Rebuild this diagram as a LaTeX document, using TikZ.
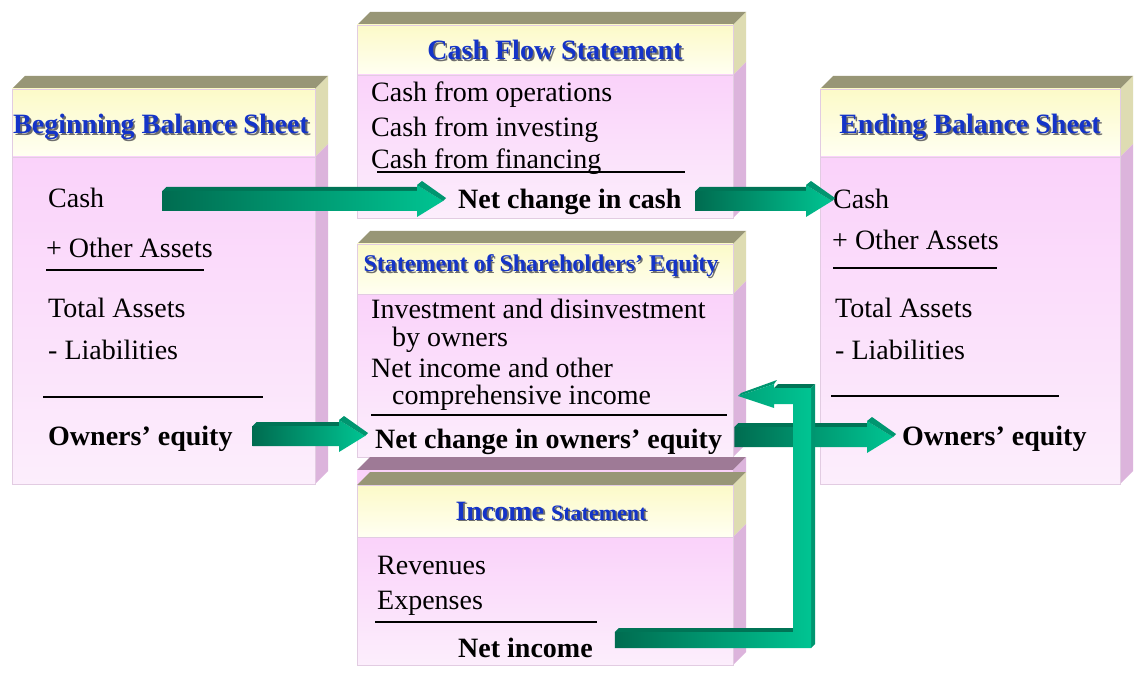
\documentclass[tikz,border=0pt]{standalone}
\usepackage{fontspec}
\setmainfont{Liberation Serif}
\usetikzlibrary{calc}

\definecolor{cTop}{RGB}{152,150,118}
\definecolor{cBackTop}{RGB}{158,122,150}
\definecolor{cHdrSide}{RGB}{222,220,178}
\definecolor{cBodySide}{RGB}{220,180,220}
\definecolor{cHdrA}{RGB}{252,250,200}
\definecolor{cHdrB}{RGB}{255,255,242}
\definecolor{cBodyA}{RGB}{250,210,250}
\definecolor{cBodyB}{RGB}{252,238,252}
\definecolor{cEdge}{RGB}{226,204,226}
\definecolor{cTitle}{RGB}{20,52,200}
\definecolor{cShadow}{RGB}{110,110,110}
\definecolor{cTealDark}{RGB}{0,108,80}
\definecolor{cTealLight}{RGB}{0,196,146}
\definecolor{cTealTop}{RGB}{0,116,86}
\definecolor{cTealTip}{RGB}{0,150,112}

\tikzset{
  topface/.style={fill=cTop},
  backface/.style={fill=cBackTop},
  hdrside/.style={fill=cHdrSide},
  bodyside/.style={fill=cBodySide},
  hdrfront/.style={top color=cHdrA, bottom color=cHdrB},
  bodyfront/.style={top color=cBodyA, bottom color=cBodyB},
  edge/.style={draw=cEdge, line width=0.8pt},
  item/.style={anchor=west, inner sep=0pt, text height=18pt, text depth=0pt,
    font=\fontsize{28}{30}\selectfont},
  total/.style={item, font=\fontsize{28}{30}\selectfont\bfseries},
  title/.style={inner sep=0pt, text=cTitle, font=\fontsize{28}{30}\selectfont\bfseries},
  titleshadow/.style={title, text=cShadow},
  smalltitle/.style={font=\fontsize{24}{26}\selectfont\bfseries},
  rule/.style={line width=1.3pt},
  arrowface/.style={left color=cTealDark, right color=cTealLight},
  arrowtop/.style={fill=cTealTop},
  arrowtip/.style={fill=cTealTip}
}

% front face, header and body of a statement box: x1, x2, ytop, yheader, ybottom
\newcommand{\sheetbox}[5]{%
  \fill [topface] (#1,#3) -- ++(13pt,13pt) -- ({#2+13},{#3-13}) -- (#2,#3) -- cycle;
  \fill [hdrside] (#2,#3) -- ({#2+13},{#3-13}) -- ({#2+13},{#4-13}) -- (#2,#4) -- cycle;
  \fill [bodyside] (#2,#4) -- ({#2+13},{#4-13}) -- ({#2+13},{#5-13}) -- (#2,#5) -- cycle;
  \shade [hdrfront] (#1,#3) rectangle (#2,#4);
  \shade [bodyfront] (#1,#4) rectangle (#2,#5);
  \draw [edge] (#1,#3) rectangle (#2,#5);
  \draw [edge] (#1,#4) -- (#2,#4);
}

% title with its shadow: name, x, y, text
\newcommand{\boxtitle}[4]{%
  \node [titleshadow] (#1-sh) at ([xshift=1.8pt,yshift=-1.8pt]#2,#3) {#4};
  \node [title] (#1) at (#2,#3) {#4};
}

% straight block arrow from #1 to the tip #2
\newcommand{\flowarrow}[2]{%
  \fill [arrowtop] let \p1=(#1), \p2=(#2) in
    (\x1,\y1+10pt) -- (\x1+4pt,\y1+14pt) -- (\x2-22pt,\y1+14pt) -- (\x2-26pt,\y1+10pt) -- cycle;
  \shade [arrowface] let \p1=(#1), \p2=(#2) in
    (\x1,\y1+10pt) -- (\x2-26pt,\y1+10pt) -- (\x2-26pt,\y1+16pt) -- (\x2,\y1)
    -- (\x2-26pt,\y1-16pt) -- (\x2-26pt,\y1-10pt) -- (\x1,\y1-10pt) -- cycle;
  \fill [arrowtip] let \p1=(#1), \p2=(#2) in
    (\x2-26pt,\y1+16pt) -- (\x2-21pt,\y1+20pt) -- (\x2+3pt,\y1+3pt) -- (\x2,\y1) -- cycle;
}

\begin{document}
\begin{tikzpicture}[x=1pt, y=-1pt]

\fill [white] (0,0) rectangle (1140,676);
\useasboundingbox (0,0) rectangle (1140,676);

\sheetbox{12}{315}{89}{157}{484}
\boxtitle{bbs}{161}{127}{Beginning Balance Sheet}

\sheetbox{357}{733}{25}{75}{218}
\boxtitle{cfs}{555}{50}{Cash Flow Statement}

\sheetbox{357}{733}{244}{294}{457}
\node [titleshadow, smalltitle] (sse-sh) at ([xshift=1.5pt,yshift=-1.5pt]541,266) {Statement of Shareholders’ Equity};
\node [title, smalltitle] (sse) at (541,266) {Statement of Shareholders’ Equity};

\fill [backface] (357,470) -- ++(13pt,13pt) -- (746,457) -- (733,470) -- cycle;
\fill [bodyside] (733,470) -- (746,457) -- (746,472) -- (733,485) -- cycle;
\fill [cBodyA] (357,470) rectangle (733,485);

\sheetbox{357}{733}{485}{537}{665}
\boxtitle{is}{551}{511}{Income {\fontsize{22}{24}\selectfont Statement}}

\sheetbox{820}{1120}{89}{157}{484}
\boxtitle{ebs}{970}{127}{Ending Balance Sheet}

\node [item] (bcash) at (48,199) {Cash};
\node [item] (both) at (46,249) {+ Other Assets};
\draw [rule] (46,270) -- (204,270);
\node [item] (btot) at (48,308) {Total Assets};
\node [item] (bliab) at (48,350) {- Liabilities};
\draw [rule] (43,397) -- (263,397);
\node [total] (bown) at (48,436) {Owners’ equity};

\node [item] (cops) at (371,93) {Cash from operations};
\node [item] (cinv) at (371,128) {Cash from investing};
\node [item] (cfin) at (371,160) {Cash from financing};
\draw [rule] (377,172) -- (685,172);
\node [total] (ncash) at (458,200) {Net change in cash};

\node [item] (sinv) at (371,309) {Investment and disinvestment};
\node [item] (sown) at (392,337) {by owners};
\node [item] (snet) at (371,368) {Net income and other};
\node [item] (scomp) at (392,395) {comprehensive income};
\draw [rule] (371,415) -- (727,415);
\node [total] (nchg) at (375,439) {Net change in owners’ equity};

\node [item] (irev) at (377,565) {Revenues};
\node [item] (iexp) at (377,600) {Expenses};
\draw [rule] (375,622) -- (597,622);
\node [total] (ninc) at (458,648) {Net income};

\node [item] (ecash) at (833,200) {Cash};
\node [item] (eoth) at (832,241) {+ Other Assets};
\draw [rule] (833,268) -- (997,268);
\node [item] (etot) at (835,308) {Total Assets};
\node [item] (eliab) at (835,350) {- Liabilities};
\draw [rule] (831,396) -- (1059,396);
\node [total] (eown) at (902,436) {Owners’ equity};

\flowarrow{[xshift=58pt,yshift=-2pt]bcash.east}{[xshift=-15pt,yshift=-2pt]ncash.west}
\flowarrow{[xshift=14pt,yshift=-1pt]ncash.east}{[xshift=-1pt,yshift=-1pt]ecash.west}
\flowarrow{[xshift=20pt]bown.east}{[xshift=-10pt,yshift=2pt]nchg.west}
\flowarrow{[xshift=12pt,yshift=2pt]nchg.east}{[xshift=-9pt,yshift=-2pt]eown.west}

\coordinate (bend) at (802,500);
\coordinate (eqin) at (738,396);
\fill [arrowtop] let \p1=([xshift=22pt,yshift=8pt]ninc.east), \p2=(eqin), \p3=(bend) in
  (\x1,\y1+8pt) -- (\x1+4pt,\y1+12pt) -- (\x3-9pt,\y1+12pt) -- (\x3-9pt,\y1+8pt) -- cycle
  (\x2+36pt,\y2+8pt) -- (\x2+40pt,\y2+12pt) -- (\x3+13pt,\y2+12pt) -- (\x3+9pt,\y2+8pt) -- cycle;
\fill [arrowtip] let \p1=([xshift=22pt,yshift=8pt]ninc.east), \p2=(eqin), \p3=(bend) in
  (\x3+9pt,\y2+8pt) -- (\x3+13pt,\y2+12pt) -- (\x3+13pt,\y1-4pt) -- (\x3+9pt,\y1-8pt) -- cycle
  (\x2+36pt,\y2+12pt) -- (\x2+39pt,\y2+16pt) -- (\x2+3pt,\y2+3pt) -- (\x2,\y2) -- cycle;
\shade [arrowface] let \p1=([xshift=22pt,yshift=8pt]ninc.east), \p2=(eqin), \p3=(bend) in
  (\x1,\y1+8pt) -- (\x3-9pt,\y1+8pt) -- (\x3-9pt,\y2-8pt) -- (\x2+36pt,\y2-8pt)
  -- (\x2+36pt,\y2-12pt) -- (\x2,\y2) -- (\x2+36pt,\y2+12pt) -- (\x2+36pt,\y2+8pt)
  -- (\x3+9pt,\y2+8pt) -- (\x3+9pt,\y1-8pt) -- (\x1,\y1-8pt) -- cycle;

\end{tikzpicture}
\end{document}
